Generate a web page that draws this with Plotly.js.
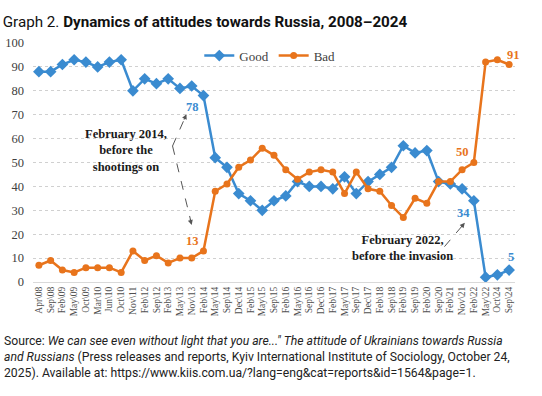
<!DOCTYPE html>
<html>
<head>
<meta charset="utf-8">
<script src="https://cdn.plot.ly/plotly-3.0.1.min.js"></script>
<style>html,body{margin:0;padding:0;background:#fff;}#chart{width:542px;height:396px;}</style>
</head>
<body>
<div id="chart"></div>
<script>
const categories = ["Apr\\08","Sep\\08","Feb\\09","May\\09","Oct\\09","Mar\\10","Jun\\10","Oct\\10","Nov\\11","Feb\\12","Sep\\12","Feb\\13","May\\13","Nov\\13","Feb\\14","May\\14","Sep\\14","Dec\\14","Feb\\15","May\\15","Sep\\15","Feb\\16","May\\16","Sep\\16","Dec\\16","Feb\\17","May\\17","Sep\\17","Dec\\17","Feb\\18","Sep\\18","Feb\\19","Sep\\19","Feb\\20","Sep\\20","Feb\\21","Nov\\21","Feb\\22","May\\22","Oct\\24","Sep\\24"];
const good = [88,88,91,93,92,90,92,93,80,85,83,85,81,82,78,52,48,37,34,30,34,36,42,40,40,39,44,37,42,45,48,57,54,55,42,41,39,34,2,3,5];
const bad  = [7,9,5,4,6,6,6,4,13,9,11,8,10,10,13,38,41,48,51,56,53,47,43,46,47,46,37,46,39,38,32,27,35,33,42,42,47,50,92,93,91];
const yTicks = [0,10,20,30,40,50,60,70,80,90,100];

const blue = "#3a8bd0";
const orange = "#e8741c";
const serif = "Liberation Serif, Times New Roman, serif";
const sans = "Roboto, Arial, sans-serif";

const traces = [
  {x: categories, y: good, name: "Good", type: "scatter", mode: "lines+markers",
   line: {color: blue, width: 2.5}, marker: {symbol: "diamond", size: 9, color: blue}},
  {x: categories, y: bad, name: "Bad", type: "scatter", mode: "lines+markers",
   line: {color: orange, width: 2.5}, marker: {symbol: "circle", size: 7, color: orange}}
];

const numFont = (c) => ({family: serif, size: 12.5, color: c});
const annFont = {family: serif, size: 12.5, color: "#1a1a1a"};

const layout = {
  width: 542, height: 396,
  margin: {l: 33, r: 27, t: 43, b: 114},
  paper_bgcolor: "#fff", plot_bgcolor: "#fff",
  showlegend: true,
  legend: {orientation: "h", x: 0.345, xanchor: "left", y: 1.01, yanchor: "top",
           font: {family: serif, size: 13, color: "#404040"}, bgcolor: "rgba(0,0,0,0)"},
  title: {text: "Graph 2. <b>Dynamics of attitudes towards Russia, 2008–2024</b>",
          font: {family: sans, size: 15.2, color: "#111"},
          xref: "container", x: 0.005, xanchor: "left", yref: "container", y: 0.945, yanchor: "middle"},
  xaxis: {type: "category", range: [-0.5, 40.5], tickangle: -90, showgrid: false,
          showline: true, linecolor: "#d9d9d9", linewidth: 1, ticks: "",
          tickfont: {family: serif, size: 9.5, color: "#505050"}, fixedrange: true},
  yaxis: {range: [0, 100], tickvals: yTicks, showgrid: true, gridcolor: "#d0d0d0", griddash: "dot",
          zeroline: false, ticks: "", ticklabelstandoff: 8,
          tickfont: {family: serif, size: 12.5, color: "#404040"}, fixedrange: true},
  shapes: [
    {type: "line", xref: "x", yref: "y", x0: 11.37, y0: 56.9, x1: 12.45, y1: 69.0, line: {color: "#555", width: 1, dash: "dash"}},
    {type: "line", xref: "x", yref: "y", x0: 11.37, y0: 56.9, x1: 12.95, y1: 25.0, line: {color: "#555", width: 1, dash: "dash"}},
    {type: "line", xref: "x", yref: "y", x0: 34.5, y0: 14.8, x1: 36.1, y1: 24.0, line: {color: "#555", width: 1, dash: "dash"}}
  ],
  annotations: [
    {xref: "x", yref: "y", x: 12.55, y: 70.2, ax: -3, ay: 7, text: "", showarrow: true, arrowhead: 2, arrowsize: 1, arrowwidth: 1, arrowcolor: "#555"},
    {xref: "x", yref: "y", x: 13.0, y: 23.9, ax: -2, ay: -7, text: "", showarrow: true, arrowhead: 2, arrowsize: 1, arrowwidth: 1, arrowcolor: "#555"},
    {xref: "x", yref: "y", x: 36.23, y: 24.8, ax: -5, ay: 6, text: "", showarrow: true, arrowhead: 2, arrowsize: 1, arrowwidth: 1, arrowcolor: "#555"},
    {xref: "x", yref: "y", x: 7.38, y: 55, text: "<b>February 2014,<br>before the<br>shootings on</b>", showarrow: false, font: annFont, align: "center"},
    {xref: "x", yref: "y", x: 30.95, y: 14.2, text: "<b>February 2022,<br>before the invasion</b>", showarrow: false, font: annFont, align: "center"},
    {xref: "x", yref: "y", x: 13.06, y: 73.3, text: "<b>78</b>", showarrow: false, font: numFont(blue)},
    {xref: "x", yref: "y", x: 13.06, y: 17.3, text: "<b>13</b>", showarrow: false, font: numFont(orange)},
    {xref: "x", yref: "y", x: 36.03, y: 54.5, text: "<b>50</b>", showarrow: false, font: numFont(orange)},
    {xref: "x", yref: "y", x: 40.34, y: 95, text: "<b>91</b>", showarrow: false, font: numFont(orange)},
    {xref: "x", yref: "y", x: 36.14, y: 29, text: "<b>34</b>", showarrow: false, font: numFont(blue)},
    {xref: "x", yref: "y", x: 40.2, y: 10.6, text: "<b>5</b>", showarrow: false, font: numFont(blue)},
    {xref: "paper", yref: "paper", x: -0.064, xanchor: "left", y: -0.21, yanchor: "top", align: "left", showarrow: false,
     font: {family: sans, size: 12.2, color: "#222"},
     text: "Source: <i>We can see even without light that you are...\" The attitude of Ukrainians towards Russia</i><br><i>and Russians</i> (Press releases and reports, Kyiv International Institute of Sociology, October 24,<br>2025). Available at: https://www.kiis.com.ua/?lang=eng&cat=reports&id=1564&page=1."}
  ]
};

Plotly.newPlot("chart", traces, layout, {displayModeBar: false, staticPlot: true});
</script>
</body>
</html>
